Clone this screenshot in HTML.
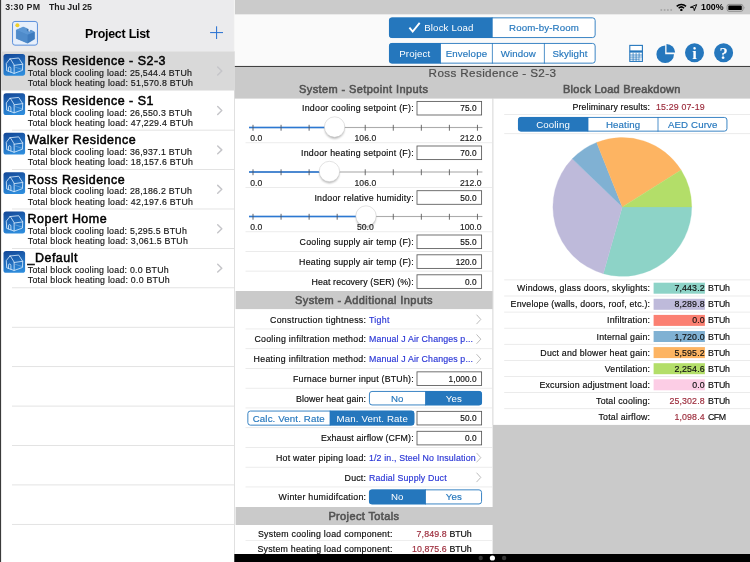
<!DOCTYPE html>
<html lang="en"><head><meta charset="utf-8"><title>Project List</title>
<style>
html,body{margin:0;padding:0;background:#fff;}
#app{position:relative;width:750px;height:562px;overflow:hidden;font-family:"Liberation Sans", sans-serif;color:#000;}
#app div,#app span.t,#app svg{position:absolute;}
svg.ov{left:0;top:0;}
.t{white-space:pre;}
</style></head>
<body>
<div id="app">
<svg class="ov" width="750" height="562" viewBox="0 0 750 562"><rect x="0.00" y="0.00" width="234.40" height="562.00" fill="#ffffff"/><rect x="0.00" y="0.00" width="234.40" height="51.20" fill="#ebebed"/><rect x="234.40" y="0.00" width="515.60" height="14.60" fill="#cbcbcb"/><rect x="234.40" y="14.60" width="515.60" height="51.40" fill="#fafafa"/><rect x="234.40" y="66.00" width="515.60" height="496.00" fill="#cacaca"/><rect x="234.40" y="65.95" width="515.60" height="0.85" fill="#202020"/><rect x="234.40" y="98.60" width="258.20" height="456.00" fill="#ffffff"/><rect x="493.20" y="98.60" width="256.80" height="326.30" fill="#ffffff"/><rect x="492.50" y="98.60" width="0.80" height="326.30" fill="#e0e0e0"/><rect x="234.40" y="554.00" width="515.60" height="8.00" fill="#000000"/><rect x="234.10" y="51.20" width="0.70" height="511.00" fill="#d8d8d8"/><rect x="233.90" y="0.00" width="1.00" height="51.20" fill="#f6f6f6"/><rect x="0.00" y="0.00" width="1.10" height="562.00" fill="#3a3a3a"/></svg>
<span class="t" style="left:5.20px;top:3.00px;font-size:8.8px;line-height:8.8px;letter-spacing:0.258px;font-weight:700;color:#1e1e1e;">3:30 PM</span>
<span class="t" style="left:49.00px;top:3.00px;font-size:8.8px;line-height:8.8px;letter-spacing:-0.057px;font-weight:700;color:#1e1e1e;">Thu Jul 25</span>
<span class="t" style="left:701.00px;top:3.00px;font-size:8.8px;line-height:8.8px;letter-spacing:0.033px;font-weight:700;">100%</span>
<svg class="ov" width="750" height="562" viewBox="0 0 750 562"><circle cx="661.30" cy="10.1" r="1.0" fill="#a6a6a6"/><circle cx="664.60" cy="10.1" r="1.0" fill="#a6a6a6"/><circle cx="667.90" cy="10.1" r="1.0" fill="#a6a6a6"/><circle cx="671.20" cy="10.1" r="1.0" fill="#a6a6a6"/><g transform="translate(676.2 3.4) scale(0.5)"><path d="M1.0 5.9 A13.2 13.2 0 0 1 19.6 5.9" fill="none" stroke="#000" stroke-width="3.0"/><path d="M4.9 9.6 A7.8 7.8 0 0 1 15.7 9.6" fill="none" stroke="#000" stroke-width="3.0"/><circle cx="10.3" cy="13" r="2.4" fill="#000"/></g><path d="M696.7 4.6 L694.3 10.6 L693.7 7.7 L690.3 7.3 Z" fill="none" stroke="#000" stroke-width="0.95" stroke-linejoin="round"/><rect x="727.1" y="4.4" width="15.9" height="6.9" rx="1.9" fill="none" stroke="#808080" stroke-width="0.8"/><rect x="728.3" y="5.6" width="13.5" height="4.5" rx="0.9" fill="#000"/><path d="M743.9 6.6 Q745.2 7.85 743.9 9.1 Z" fill="#808080"/><g transform="translate(11.6 20.6)"><rect x="0.95" y="0.85" width="24.9" height="23.7" rx="2.4" fill="#e7effb" stroke="#5a8fdb" stroke-width="1.0"/><circle cx="5.8" cy="4.7" r="2.0" fill="#f0cf2c"/><path d="M4.67 9.3 L11.7 6.3 L15.3 7.8 L15.3 10.3 L18.3 11.5 L18.3 9.9 L19.4 9.5 L23.0 11.4 L23.0 18.5 L16.0 22.75 L4.67 17.8 Z" fill="#4f8bca" stroke="#4f8bca" stroke-width="0.3"/><path d="M4.67 9.3 L11.7 6.3 L15.3 7.8 L15.3 10.3 L18.3 11.5 L18.3 9.9 L19.4 9.5 L23.0 11.4 L16.0 14.2 Z" fill="#5c97d4"/><path d="M4.67 9.3 L16.0 14.2 L16.0 22.75 L4.67 17.8 Z" fill="#4f8bca"/><path d="M16.0 14.2 L23.0 11.4 L23.0 18.5 L16.0 22.75 Z" fill="#3e7bbe"/><path d="M15.3 7.8 L15.3 10.3 L16.9 10.95 L16.9 8.5 Z" fill="#3a74b4"/></g></svg>
<span class="t" style="left:85.00px;top:28.00px;font-size:12.45px;line-height:12.45px;letter-spacing:-0.249px;font-weight:700;">Project List</span>
<svg class="ov" width="750" height="562" viewBox="0 0 750 562"><rect x="210.10" y="32.05" width="12.90" height="1.05" fill="#2e74d2"/><rect x="216.05" y="26.30" width="1.05" height="12.70" fill="#2e74d2"/><defs><linearGradient id="hg" x1="0.3" y1="0" x2="0.55" y2="1"><stop offset="0" stop-color="#154c9c"/><stop offset="1" stop-color="#2d8cdc"/></linearGradient></defs><rect x="1.25" y="51.30" width="233.00" height="39.22" fill="#d9d9d9"/><g transform="translate(3.5 53.90)"><rect x="0" y="0" width="21.6" height="21.8" rx="2.6" fill="url(#hg)"/><g fill="none" stroke="#d9ebfd" stroke-width="0.82" stroke-linejoin="round" stroke-linecap="round"><path d="M6.4 5.0 L2.8 9.6 L3.2 16.8 L10.65 19.5 L10.65 11.5 Z"/><path d="M6.4 5.0 L15.2 4.1 L19.2 10.3 L10.65 11.5"/><path d="M19.2 10.3 L18.9 16.5 L10.65 19.5"/><path d="M5.0 17.3 L5.0 14.2 Q5.0 12.9 6.2 13.0 Q7.4 13.2 7.4 14.6 L7.4 18.2"/><path d="M12 13.4 L18.9 15.6" stroke-width="0.45" opacity="0.7"/></g></g><path d="M217.7 67.10 L221.8 71.05 L217.7 75.00" fill="none" stroke="#c5c5c9" stroke-width="1.45" stroke-linecap="round" stroke-linejoin="round"/></svg>
<span class="t" style="left:27.60px;top:55.00px;font-size:12.45px;line-height:12.45px;letter-spacing:0.500px;-webkit-text-stroke:0.5px #000;">Ross Residence - S2-3</span>
<span class="t" style="left:27.80px;top:69.00px;font-size:8.8px;line-height:8.8px;letter-spacing:0.240px;color:#161616;-webkit-text-stroke:0.16px #161616;">Total block cooling load: 25,544.4 BTUh</span>
<span class="t" style="left:27.80px;top:79.00px;font-size:8.8px;line-height:8.8px;letter-spacing:0.240px;color:#161616;-webkit-text-stroke:0.16px #161616;">Total block heating load: 51,570.8 BTUh</span>
<svg class="ov" width="750" height="562" viewBox="0 0 750 562"><g transform="translate(3.5 93.32)"><rect x="0" y="0" width="21.6" height="21.8" rx="2.6" fill="url(#hg)"/><g fill="none" stroke="#d9ebfd" stroke-width="0.82" stroke-linejoin="round" stroke-linecap="round"><path d="M6.4 5.0 L2.8 9.6 L3.2 16.8 L10.65 19.5 L10.65 11.5 Z"/><path d="M6.4 5.0 L15.2 4.1 L19.2 10.3 L10.65 11.5"/><path d="M19.2 10.3 L18.9 16.5 L10.65 19.5"/><path d="M5.0 17.3 L5.0 14.2 Q5.0 12.9 6.2 13.0 Q7.4 13.2 7.4 14.6 L7.4 18.2"/><path d="M12 13.4 L18.9 15.6" stroke-width="0.45" opacity="0.7"/></g></g><path d="M217.7 106.52 L221.8 110.47 L217.7 114.42" fill="none" stroke="#c5c5c9" stroke-width="1.45" stroke-linecap="round" stroke-linejoin="round"/></svg>
<span class="t" style="left:27.60px;top:95.00px;font-size:12.45px;line-height:12.45px;letter-spacing:0.500px;-webkit-text-stroke:0.5px #000;">Ross Residence - S1</span>
<span class="t" style="left:27.80px;top:109.00px;font-size:8.8px;line-height:8.8px;letter-spacing:0.240px;color:#161616;-webkit-text-stroke:0.16px #161616;">Total block cooling load: 26,550.3 BTUh</span>
<span class="t" style="left:27.80px;top:119.00px;font-size:8.8px;line-height:8.8px;letter-spacing:0.240px;color:#161616;-webkit-text-stroke:0.16px #161616;">Total block heating load: 47,229.4 BTUh</span>
<svg class="ov" width="750" height="562" viewBox="0 0 750 562"><g transform="translate(3.5 132.74)"><rect x="0" y="0" width="21.6" height="21.8" rx="2.6" fill="url(#hg)"/><g fill="none" stroke="#d9ebfd" stroke-width="0.82" stroke-linejoin="round" stroke-linecap="round"><path d="M6.4 5.0 L2.8 9.6 L3.2 16.8 L10.65 19.5 L10.65 11.5 Z"/><path d="M6.4 5.0 L15.2 4.1 L19.2 10.3 L10.65 11.5"/><path d="M19.2 10.3 L18.9 16.5 L10.65 19.5"/><path d="M5.0 17.3 L5.0 14.2 Q5.0 12.9 6.2 13.0 Q7.4 13.2 7.4 14.6 L7.4 18.2"/><path d="M12 13.4 L18.9 15.6" stroke-width="0.45" opacity="0.7"/></g></g><path d="M217.7 145.94 L221.8 149.89 L217.7 153.84" fill="none" stroke="#c5c5c9" stroke-width="1.45" stroke-linecap="round" stroke-linejoin="round"/></svg>
<span class="t" style="left:27.60px;top:134.00px;font-size:12.45px;line-height:12.45px;letter-spacing:0.500px;-webkit-text-stroke:0.5px #000;">Walker Residence</span>
<span class="t" style="left:27.80px;top:148.00px;font-size:8.8px;line-height:8.8px;letter-spacing:0.240px;color:#161616;-webkit-text-stroke:0.16px #161616;">Total block cooling load: 36,937.1 BTUh</span>
<span class="t" style="left:27.80px;top:158.00px;font-size:8.8px;line-height:8.8px;letter-spacing:0.240px;color:#161616;-webkit-text-stroke:0.16px #161616;">Total block heating load: 18,157.6 BTUh</span>
<svg class="ov" width="750" height="562" viewBox="0 0 750 562"><g transform="translate(3.5 172.16)"><rect x="0" y="0" width="21.6" height="21.8" rx="2.6" fill="url(#hg)"/><g fill="none" stroke="#d9ebfd" stroke-width="0.82" stroke-linejoin="round" stroke-linecap="round"><path d="M6.4 5.0 L2.8 9.6 L3.2 16.8 L10.65 19.5 L10.65 11.5 Z"/><path d="M6.4 5.0 L15.2 4.1 L19.2 10.3 L10.65 11.5"/><path d="M19.2 10.3 L18.9 16.5 L10.65 19.5"/><path d="M5.0 17.3 L5.0 14.2 Q5.0 12.9 6.2 13.0 Q7.4 13.2 7.4 14.6 L7.4 18.2"/><path d="M12 13.4 L18.9 15.6" stroke-width="0.45" opacity="0.7"/></g></g><path d="M217.7 185.36 L221.8 189.31 L217.7 193.26" fill="none" stroke="#c5c5c9" stroke-width="1.45" stroke-linecap="round" stroke-linejoin="round"/></svg>
<span class="t" style="left:27.60px;top:174.00px;font-size:12.45px;line-height:12.45px;letter-spacing:0.500px;-webkit-text-stroke:0.5px #000;">Ross Residence</span>
<span class="t" style="left:27.80px;top:187.00px;font-size:8.8px;line-height:8.8px;letter-spacing:0.240px;color:#161616;-webkit-text-stroke:0.16px #161616;">Total block cooling load: 28,186.2 BTUh</span>
<span class="t" style="left:27.80px;top:198.00px;font-size:8.8px;line-height:8.8px;letter-spacing:0.240px;color:#161616;-webkit-text-stroke:0.16px #161616;">Total block heating load: 42,197.6 BTUh</span>
<svg class="ov" width="750" height="562" viewBox="0 0 750 562"><g transform="translate(3.5 211.58)"><rect x="0" y="0" width="21.6" height="21.8" rx="2.6" fill="url(#hg)"/><g fill="none" stroke="#d9ebfd" stroke-width="0.82" stroke-linejoin="round" stroke-linecap="round"><path d="M6.4 5.0 L2.8 9.6 L3.2 16.8 L10.65 19.5 L10.65 11.5 Z"/><path d="M6.4 5.0 L15.2 4.1 L19.2 10.3 L10.65 11.5"/><path d="M19.2 10.3 L18.9 16.5 L10.65 19.5"/><path d="M5.0 17.3 L5.0 14.2 Q5.0 12.9 6.2 13.0 Q7.4 13.2 7.4 14.6 L7.4 18.2"/><path d="M12 13.4 L18.9 15.6" stroke-width="0.45" opacity="0.7"/></g></g><path d="M217.7 224.78 L221.8 228.73 L217.7 232.68" fill="none" stroke="#c5c5c9" stroke-width="1.45" stroke-linecap="round" stroke-linejoin="round"/></svg>
<span class="t" style="left:27.60px;top:213.00px;font-size:12.45px;line-height:12.45px;letter-spacing:0.500px;-webkit-text-stroke:0.5px #000;">Ropert Home</span>
<span class="t" style="left:27.80px;top:227.00px;font-size:8.8px;line-height:8.8px;letter-spacing:0.240px;color:#161616;-webkit-text-stroke:0.16px #161616;">Total block cooling load: 5,295.5 BTUh</span>
<span class="t" style="left:27.80px;top:237.00px;font-size:8.8px;line-height:8.8px;letter-spacing:0.240px;color:#161616;-webkit-text-stroke:0.16px #161616;">Total block heating load: 3,061.5 BTUh</span>
<svg class="ov" width="750" height="562" viewBox="0 0 750 562"><g transform="translate(3.5 251.00)"><rect x="0" y="0" width="21.6" height="21.8" rx="2.6" fill="url(#hg)"/><g fill="none" stroke="#d9ebfd" stroke-width="0.82" stroke-linejoin="round" stroke-linecap="round"><path d="M6.4 5.0 L2.8 9.6 L3.2 16.8 L10.65 19.5 L10.65 11.5 Z"/><path d="M6.4 5.0 L15.2 4.1 L19.2 10.3 L10.65 11.5"/><path d="M19.2 10.3 L18.9 16.5 L10.65 19.5"/><path d="M5.0 17.3 L5.0 14.2 Q5.0 12.9 6.2 13.0 Q7.4 13.2 7.4 14.6 L7.4 18.2"/><path d="M12 13.4 L18.9 15.6" stroke-width="0.45" opacity="0.7"/></g></g><path d="M217.7 264.20 L221.8 268.15 L217.7 272.10" fill="none" stroke="#c5c5c9" stroke-width="1.45" stroke-linecap="round" stroke-linejoin="round"/></svg>
<span class="t" style="left:27.60px;top:252.00px;font-size:12.45px;line-height:12.45px;letter-spacing:0.500px;-webkit-text-stroke:0.5px #000;">_Default</span>
<span class="t" style="left:27.80px;top:266.00px;font-size:8.8px;line-height:8.8px;letter-spacing:0.240px;color:#161616;-webkit-text-stroke:0.16px #161616;">Total block cooling load: 0.0 BTUh</span>
<span class="t" style="left:27.80px;top:276.00px;font-size:8.8px;line-height:8.8px;letter-spacing:0.240px;color:#161616;-webkit-text-stroke:0.16px #161616;">Total block heating load: 0.0 BTUh</span>
<svg class="ov" width="750" height="562" viewBox="0 0 750 562"><rect x="12.00" y="129.76" width="222.10" height="0.75" fill="#dadada"/><rect x="12.00" y="169.19" width="222.10" height="0.75" fill="#dadada"/><rect x="12.00" y="208.61" width="222.10" height="0.75" fill="#dadada"/><rect x="12.00" y="248.03" width="222.10" height="0.75" fill="#dadada"/><rect x="12.00" y="287.44" width="222.10" height="0.75" fill="#dadada"/><rect x="12.00" y="326.87" width="222.10" height="0.75" fill="#dadada"/><rect x="12.00" y="366.29" width="222.10" height="0.75" fill="#dadada"/><rect x="12.00" y="405.71" width="222.10" height="0.75" fill="#dadada"/><rect x="12.00" y="445.13" width="222.10" height="0.75" fill="#dadada"/><rect x="12.00" y="484.55" width="222.10" height="0.75" fill="#dadada"/><rect x="12.00" y="523.97" width="222.10" height="0.75" fill="#dadada"/><clipPath id="c1"><rect x="389.00" y="17.40" width="206.60" height="20.60" rx="3.0"/></clipPath><rect x="389.00" y="17.40" width="206.60" height="20.60" rx="3.0" fill="#fff"/><rect x="389.00" y="17.40" width="103.20" height="20.60" fill="#2577bd" clip-path="url(#c1)"/><rect x="491.80" y="17.40" width="0.8" height="20.60" fill="#2577bd"/><rect x="389.45" y="17.85" width="205.70" height="19.70" rx="2.55" fill="none" stroke="#2577bd" stroke-width="0.9"/><path d="M409.40 27.67 L412.70 31.57 L419.70 22.87" fill="none" stroke="#fff" stroke-width="1.9"/></svg>
<span class="t" style="left:424.25px;top:23.00px;font-size:9.7px;line-height:9.7px;letter-spacing:0.130px;color:#fff;">Block Load</span>
<span class="t" style="left:509.00px;top:23.00px;font-size:9.7px;line-height:9.7px;letter-spacing:0.130px;color:#2577bd;-webkit-text-stroke:0.16px #2577bd;">Room-by-Room</span>
<svg class="ov" width="750" height="562" viewBox="0 0 750 562"><clipPath id="c2"><rect x="389.00" y="43.00" width="206.60" height="20.60" rx="3.0"/></clipPath><rect x="389.00" y="43.00" width="206.60" height="20.60" rx="3.0" fill="#fff"/><rect x="389.00" y="43.00" width="51.50" height="20.60" fill="#2577bd" clip-path="url(#c2)"/><rect x="440.10" y="43.00" width="0.8" height="20.60" fill="#2577bd"/><rect x="491.90" y="43.00" width="0.8" height="20.60" fill="#2577bd"/><rect x="543.90" y="43.00" width="0.8" height="20.60" fill="#2577bd"/><rect x="389.45" y="43.45" width="205.70" height="19.70" rx="2.55" fill="none" stroke="#2577bd" stroke-width="0.9"/></svg>
<span class="t" style="left:399.28px;top:49.00px;font-size:9.7px;line-height:9.7px;letter-spacing:0.130px;color:#fff;">Project</span>
<span class="t" style="left:445.74px;top:49.00px;font-size:9.7px;line-height:9.7px;letter-spacing:0.130px;color:#2577bd;-webkit-text-stroke:0.16px #2577bd;">Envelope</span>
<span class="t" style="left:500.74px;top:49.00px;font-size:9.7px;line-height:9.7px;letter-spacing:0.130px;color:#2577bd;-webkit-text-stroke:0.16px #2577bd;">Window</span>
<span class="t" style="left:552.53px;top:49.00px;font-size:9.7px;line-height:9.7px;letter-spacing:0.130px;color:#2577bd;-webkit-text-stroke:0.16px #2577bd;">Skylight</span>
<svg class="ov" width="750" height="562" viewBox="0 0 750 562"><g transform="translate(629.2 44.8)"><rect x="0.6" y="0.6" width="12.6" height="16" fill="#fff" stroke="#2577bd" stroke-width="1.1"/><rect x="0.6" y="5.6" width="12.6" height="2.2" fill="#2577bd"/><g stroke="#2577bd" stroke-width="0.75"><path d="M3.9 8 V16.6 M6.9 8 V16.6 M9.9 8 V16.6"/><path d="M0.6 10.2 H13.2 M0.6 12.3 H13.2 M0.6 14.4 H13.2"/></g><rect x="10.35" y="12.75" width="2.25" height="3.4" fill="#d9e6f3"/></g><g transform="translate(655 42.4)"><path d="M10.2 3.1 A8.8 8.8 0 1 0 19 11.9 L10.2 11.9 Z" fill="#2577bd"/><path d="M11.5 1.5 A8.6 8.6 0 0 1 20.1 10.1 L11.5 10.1 Z" fill="#2577bd"/></g><circle cx="694.5" cy="52.7" r="9.5" fill="#2577bd"/><circle cx="723.6" cy="52.7" r="9.5" fill="#2577bd"/></svg>
<span class="t" style="left:692.30px;top:46.00px;font-size:16.5px;line-height:16.5px;font-weight:700;color:#fff;font-family:'Liberation Serif', serif;">i</span>
<span class="t" style="left:719.58px;top:46.00px;font-size:16.5px;line-height:16.5px;font-weight:700;color:#fff;font-family:'Liberation Serif', serif;">?</span>
<span class="t" style="left:428.60px;top:67.00px;font-size:11.7px;line-height:11.7px;letter-spacing:0.361px;color:#4e4e4e;-webkit-text-stroke:0.2px #4e4e4e;">Ross Residence - S2-3</span>
<span class="t" style="left:299.00px;top:84.00px;font-size:11px;line-height:11px;letter-spacing:0.398px;color:#525252;-webkit-text-stroke:0.55px #525252;">System - Setpoint Inputs</span>
<span class="t" style="left:563.00px;top:84.00px;font-size:11px;line-height:11px;letter-spacing:0.257px;color:#525252;-webkit-text-stroke:0.55px #525252;">Block Load Breakdown</span>
<svg class="ov" width="750" height="562" viewBox="0 0 750 562"><defs><filter id="sh" x="-30%" y="-30%" width="160%" height="170%"><feGaussianBlur stdDeviation="1.25"/></filter></defs></svg>
<span class="t" style="left:302.00px;top:104.00px;font-size:8.8px;line-height:8.8px;letter-spacing:0.258px;color:#0c0c0c;-webkit-text-stroke:0.16px #0c0c0c;">Indoor cooling setpoint (F):</span>
<svg class="ov" width="750" height="562" viewBox="0 0 750 562"><rect x="417.0" y="101.40" width="64.6" height="13.6" fill="#fff" stroke="#585858" stroke-width="0.85"/></svg>
<span class="t" style="left:460.29px;top:104.00px;font-size:8.3px;line-height:8.3px;letter-spacing:0.050px;color:#111;-webkit-text-stroke:0.16px #111;">75.0</span>
<svg class="ov" width="750" height="562" viewBox="0 0 750 562"><rect x="249.00" y="126.95" width="233.40" height="1.10" fill="#acacac"/><rect x="249.00" y="126.70" width="85.60" height="1.60" fill="#2c78d2"/><rect x="252.55" y="124.80" width="0.90" height="5.90" fill="#4f5560"/><rect x="280.60" y="124.80" width="0.90" height="5.90" fill="#4f5560"/><rect x="308.65" y="124.80" width="0.90" height="5.90" fill="#4f5560"/><rect x="336.70" y="124.80" width="0.90" height="5.90" fill="#5e5e5e"/><rect x="364.75" y="124.80" width="0.90" height="5.90" fill="#5e5e5e"/><rect x="392.80" y="124.80" width="0.90" height="5.90" fill="#5e5e5e"/><rect x="420.85" y="124.80" width="0.90" height="5.90" fill="#5e5e5e"/><rect x="448.90" y="124.80" width="0.90" height="5.90" fill="#5e5e5e"/><rect x="476.95" y="124.80" width="0.90" height="5.90" fill="#5e5e5e"/><circle cx="334.60" cy="129.00" r="9.7" fill="#000" opacity="0.3" filter="url(#sh)"/><circle cx="334.60" cy="127.00" r="10.2" fill="#fff" stroke="#c6c6c6" stroke-width="0.5"/></svg>
<span class="t" style="left:250.20px;top:134.00px;font-size:8.6px;line-height:8.6px;letter-spacing:0.050px;color:#222;-webkit-text-stroke:0.16px #222;">0.0</span>
<span class="t" style="left:354.54px;top:134.00px;font-size:8.6px;line-height:8.6px;letter-spacing:0.050px;color:#222;-webkit-text-stroke:0.16px #222;">106.0</span>
<span class="t" style="left:459.88px;top:134.00px;font-size:8.6px;line-height:8.6px;letter-spacing:0.050px;color:#222;-webkit-text-stroke:0.16px #222;">212.0</span>
<svg class="ov" width="750" height="562" viewBox="0 0 750 562"><rect x="245.50" y="142.43" width="247.00" height="0.75" fill="#e5e5e5"/></svg>
<span class="t" style="left:301.00px;top:149.00px;font-size:8.8px;line-height:8.8px;letter-spacing:0.258px;color:#0c0c0c;-webkit-text-stroke:0.16px #0c0c0c;">Indoor heating setpoint (F):</span>
<svg class="ov" width="750" height="562" viewBox="0 0 750 562"><rect x="417.0" y="146.00" width="64.6" height="13.6" fill="#fff" stroke="#585858" stroke-width="0.85"/></svg>
<span class="t" style="left:460.29px;top:149.00px;font-size:8.3px;line-height:8.3px;letter-spacing:0.050px;color:#111;-webkit-text-stroke:0.16px #111;">70.0</span>
<svg class="ov" width="750" height="562" viewBox="0 0 750 562"><rect x="249.00" y="171.45" width="233.40" height="1.10" fill="#acacac"/><rect x="249.00" y="171.20" width="80.40" height="1.60" fill="#2c78d2"/><rect x="252.55" y="169.30" width="0.90" height="5.90" fill="#4f5560"/><rect x="280.60" y="169.30" width="0.90" height="5.90" fill="#4f5560"/><rect x="308.65" y="169.30" width="0.90" height="5.90" fill="#4f5560"/><rect x="336.70" y="169.30" width="0.90" height="5.90" fill="#5e5e5e"/><rect x="364.75" y="169.30" width="0.90" height="5.90" fill="#5e5e5e"/><rect x="392.80" y="169.30" width="0.90" height="5.90" fill="#5e5e5e"/><rect x="420.85" y="169.30" width="0.90" height="5.90" fill="#5e5e5e"/><rect x="448.90" y="169.30" width="0.90" height="5.90" fill="#5e5e5e"/><rect x="476.95" y="169.30" width="0.90" height="5.90" fill="#5e5e5e"/><circle cx="329.40" cy="173.50" r="9.7" fill="#000" opacity="0.3" filter="url(#sh)"/><circle cx="329.40" cy="171.50" r="10.2" fill="#fff" stroke="#c6c6c6" stroke-width="0.5"/></svg>
<span class="t" style="left:250.20px;top:179.00px;font-size:8.6px;line-height:8.6px;letter-spacing:0.050px;color:#222;-webkit-text-stroke:0.16px #222;">0.0</span>
<span class="t" style="left:354.54px;top:179.00px;font-size:8.6px;line-height:8.6px;letter-spacing:0.050px;color:#222;-webkit-text-stroke:0.16px #222;">106.0</span>
<span class="t" style="left:459.88px;top:179.00px;font-size:8.6px;line-height:8.6px;letter-spacing:0.050px;color:#222;-webkit-text-stroke:0.16px #222;">212.0</span>
<svg class="ov" width="750" height="562" viewBox="0 0 750 562"><rect x="245.50" y="187.03" width="247.00" height="0.75" fill="#e5e5e5"/></svg>
<span class="t" style="left:314.40px;top:194.00px;font-size:8.8px;line-height:8.8px;letter-spacing:0.242px;color:#0c0c0c;-webkit-text-stroke:0.16px #0c0c0c;">Indoor relative humidity:</span>
<svg class="ov" width="750" height="562" viewBox="0 0 750 562"><rect x="417.0" y="190.70" width="64.6" height="13.6" fill="#fff" stroke="#585858" stroke-width="0.85"/></svg>
<span class="t" style="left:460.29px;top:194.00px;font-size:8.3px;line-height:8.3px;letter-spacing:0.050px;color:#111;-webkit-text-stroke:0.16px #111;">50.0</span>
<svg class="ov" width="750" height="562" viewBox="0 0 750 562"><rect x="249.00" y="215.95" width="233.40" height="1.10" fill="#acacac"/><rect x="249.00" y="215.70" width="117.00" height="1.60" fill="#2c78d2"/><rect x="252.55" y="213.80" width="0.90" height="5.90" fill="#4f5560"/><rect x="280.60" y="213.80" width="0.90" height="5.90" fill="#4f5560"/><rect x="308.65" y="213.80" width="0.90" height="5.90" fill="#4f5560"/><rect x="336.70" y="213.80" width="0.90" height="5.90" fill="#4f5560"/><rect x="364.75" y="213.80" width="0.90" height="5.90" fill="#4f5560"/><rect x="392.80" y="213.80" width="0.90" height="5.90" fill="#5e5e5e"/><rect x="420.85" y="213.80" width="0.90" height="5.90" fill="#5e5e5e"/><rect x="448.90" y="213.80" width="0.90" height="5.90" fill="#5e5e5e"/><rect x="476.95" y="213.80" width="0.90" height="5.90" fill="#5e5e5e"/><circle cx="366.00" cy="218.00" r="9.7" fill="#000" opacity="0.3" filter="url(#sh)"/><circle cx="366.00" cy="216.00" r="10.2" fill="#fff" stroke="#c6c6c6" stroke-width="0.5"/></svg>
<span class="t" style="left:250.20px;top:223.00px;font-size:8.6px;line-height:8.6px;letter-spacing:0.050px;color:#222;-webkit-text-stroke:0.16px #222;">0.0</span>
<span class="t" style="left:356.96px;top:223.00px;font-size:8.6px;line-height:8.6px;letter-spacing:0.050px;color:#222;-webkit-text-stroke:0.16px #222;">50.0</span>
<span class="t" style="left:459.88px;top:223.00px;font-size:8.6px;line-height:8.6px;letter-spacing:0.050px;color:#222;-webkit-text-stroke:0.16px #222;">100.0</span>
<svg class="ov" width="750" height="562" viewBox="0 0 750 562"><rect x="245.50" y="231.43" width="247.00" height="0.75" fill="#e5e5e5"/></svg>
<span class="t" style="left:299.61px;top:238.00px;font-size:8.8px;line-height:8.8px;letter-spacing:0.220px;color:#0c0c0c;-webkit-text-stroke:0.16px #0c0c0c;">Cooling supply air temp (F):</span>
<svg class="ov" width="750" height="562" viewBox="0 0 750 562"><rect x="417.0" y="235.00" width="64.6" height="13.6" fill="#fff" stroke="#585858" stroke-width="0.85"/></svg>
<span class="t" style="left:460.29px;top:238.00px;font-size:8.3px;line-height:8.3px;letter-spacing:0.050px;color:#111;-webkit-text-stroke:0.16px #111;">55.0</span>
<svg class="ov" width="750" height="562" viewBox="0 0 750 562"><rect x="245.50" y="251.03" width="247.00" height="0.75" fill="#e5e5e5"/></svg>
<span class="t" style="left:299.11px;top:258.00px;font-size:8.8px;line-height:8.8px;letter-spacing:0.220px;color:#0c0c0c;-webkit-text-stroke:0.16px #0c0c0c;">Heating supply air temp (F):</span>
<svg class="ov" width="750" height="562" viewBox="0 0 750 562"><rect x="417.0" y="254.80" width="64.6" height="13.6" fill="#fff" stroke="#585858" stroke-width="0.85"/></svg>
<span class="t" style="left:455.63px;top:258.00px;font-size:8.3px;line-height:8.3px;letter-spacing:0.050px;color:#111;-webkit-text-stroke:0.16px #111;">120.0</span>
<svg class="ov" width="750" height="562" viewBox="0 0 750 562"><rect x="245.50" y="270.73" width="247.00" height="0.75" fill="#e5e5e5"/></svg>
<span class="t" style="left:311.60px;top:278.00px;font-size:8.8px;line-height:8.8px;letter-spacing:0.099px;color:#0c0c0c;-webkit-text-stroke:0.16px #0c0c0c;">Heat recovery (SER) (%):</span>
<svg class="ov" width="750" height="562" viewBox="0 0 750 562"><rect x="417.0" y="274.80" width="64.6" height="13.6" fill="#fff" stroke="#585858" stroke-width="0.85"/></svg>
<span class="t" style="left:464.95px;top:278.00px;font-size:8.3px;line-height:8.3px;letter-spacing:0.050px;color:#111;-webkit-text-stroke:0.16px #111;">0.0</span>
<svg class="ov" width="750" height="562" viewBox="0 0 750 562"><rect x="235.60" y="291.00" width="257.00" height="18.10" fill="#cacaca"/></svg>
<span class="t" style="left:295.00px;top:295.00px;font-size:11px;line-height:11px;letter-spacing:0.408px;color:#525252;-webkit-text-stroke:0.55px #525252;">System - Additional Inputs</span>
<span class="t" style="left:270.00px;top:316.00px;font-size:8.8px;line-height:8.8px;letter-spacing:0.296px;color:#0c0c0c;-webkit-text-stroke:0.16px #0c0c0c;">Construction tightness:</span>
<span class="t" style="left:369.00px;top:316.00px;font-size:8.8px;line-height:8.8px;letter-spacing:0.291px;color:#2a36d6;-webkit-text-stroke:0.16px #2a36d6;">Tight</span>
<svg class="ov" width="750" height="562" viewBox="0 0 750 562"><path d="M476.8 315.00 L480.8 319.40 L476.8 323.80" fill="none" stroke="#b8b8b8" stroke-width="0.95" stroke-linecap="round" stroke-linejoin="round"/><rect x="245.50" y="328.57" width="247.00" height="0.75" fill="#e5e5e5"/></svg>
<span class="t" style="left:254.40px;top:335.00px;font-size:8.8px;line-height:8.8px;letter-spacing:0.276px;color:#0c0c0c;-webkit-text-stroke:0.16px #0c0c0c;">Cooling infiltration method:</span>
<span class="t" style="left:369.00px;top:335.00px;font-size:8.8px;line-height:8.8px;letter-spacing:0.136px;color:#2a36d6;-webkit-text-stroke:0.16px #2a36d6;">Manual J Air Changes p...</span>
<svg class="ov" width="750" height="562" viewBox="0 0 750 562"><path d="M476.8 334.75 L480.8 339.15 L476.8 343.55" fill="none" stroke="#b8b8b8" stroke-width="0.95" stroke-linecap="round" stroke-linejoin="round"/><rect x="245.50" y="348.32" width="247.00" height="0.75" fill="#e5e5e5"/></svg>
<span class="t" style="left:253.60px;top:355.00px;font-size:8.8px;line-height:8.8px;letter-spacing:0.287px;color:#0c0c0c;-webkit-text-stroke:0.16px #0c0c0c;">Heating infiltration method:</span>
<span class="t" style="left:369.00px;top:355.00px;font-size:8.8px;line-height:8.8px;letter-spacing:0.136px;color:#2a36d6;-webkit-text-stroke:0.16px #2a36d6;">Manual J Air Changes p...</span>
<svg class="ov" width="750" height="562" viewBox="0 0 750 562"><path d="M476.8 354.50 L480.8 358.90 L476.8 363.30" fill="none" stroke="#b8b8b8" stroke-width="0.95" stroke-linecap="round" stroke-linejoin="round"/><rect x="245.50" y="368.07" width="247.00" height="0.75" fill="#e5e5e5"/></svg>
<span class="t" style="left:293.00px;top:375.00px;font-size:8.8px;line-height:8.8px;letter-spacing:0.211px;color:#0c0c0c;-webkit-text-stroke:0.16px #0c0c0c;">Furnace burner input (BTUh):</span>
<svg class="ov" width="750" height="562" viewBox="0 0 750 562"><rect x="417.0" y="371.85" width="64.6" height="13.6" fill="#fff" stroke="#585858" stroke-width="0.85"/></svg>
<span class="t" style="left:448.61px;top:375.00px;font-size:8.3px;line-height:8.3px;letter-spacing:0.050px;color:#111;-webkit-text-stroke:0.16px #111;">1,000.0</span>
<svg class="ov" width="750" height="562" viewBox="0 0 750 562"><rect x="245.50" y="387.82" width="247.00" height="0.75" fill="#e5e5e5"/></svg>
<span class="t" style="left:296.00px;top:395.00px;font-size:8.8px;line-height:8.8px;letter-spacing:0.126px;color:#0c0c0c;-webkit-text-stroke:0.16px #0c0c0c;">Blower heat gain:</span>
<svg class="ov" width="750" height="562" viewBox="0 0 750 562"><clipPath id="c3"><rect x="369.00" y="391.00" width="113.00" height="14.40" rx="3.0"/></clipPath><rect x="369.00" y="391.00" width="113.00" height="14.40" rx="3.0" fill="#fff"/><rect x="425.50" y="391.00" width="56.50" height="14.40" fill="#2577bd" clip-path="url(#c3)"/><rect x="425.10" y="391.00" width="0.8" height="14.40" fill="#2577bd"/><rect x="369.45" y="391.45" width="112.10" height="13.50" rx="2.55" fill="none" stroke="#2577bd" stroke-width="0.9"/></svg>
<span class="t" style="left:390.99px;top:394.00px;font-size:9.7px;line-height:9.7px;letter-spacing:0.130px;color:#2577bd;-webkit-text-stroke:0.16px #2577bd;">No</span>
<span class="t" style="left:445.71px;top:394.00px;font-size:9.7px;line-height:9.7px;letter-spacing:0.130px;color:#fff;">Yes</span>
<svg class="ov" width="750" height="562" viewBox="0 0 750 562"><rect x="245.50" y="407.57" width="247.00" height="0.75" fill="#e5e5e5"/><clipPath id="c4"><rect x="247.40" y="410.60" width="167.00" height="15.00" rx="3.0"/></clipPath><rect x="247.40" y="410.60" width="167.00" height="15.00" rx="3.0" fill="#fff"/><rect x="330.00" y="410.60" width="84.40" height="15.00" fill="#2577bd" clip-path="url(#c4)"/><rect x="329.60" y="410.60" width="0.8" height="15.00" fill="#2577bd"/><rect x="247.85" y="411.05" width="166.10" height="14.10" rx="2.55" fill="none" stroke="#2577bd" stroke-width="0.9"/></svg>
<span class="t" style="left:252.72px;top:414.00px;font-size:9.7px;line-height:9.7px;letter-spacing:0.130px;color:#2577bd;-webkit-text-stroke:0.16px #2577bd;">Calc. Vent. Rate</span>
<span class="t" style="left:336.56px;top:414.00px;font-size:9.7px;line-height:9.7px;letter-spacing:0.130px;color:#fff;">Man. Vent. Rate</span>
<svg class="ov" width="750" height="562" viewBox="0 0 750 562"><rect x="417.0" y="411.35" width="64.6" height="13.6" fill="#fff" stroke="#585858" stroke-width="0.85"/></svg>
<span class="t" style="left:460.29px;top:414.00px;font-size:8.3px;line-height:8.3px;letter-spacing:0.050px;color:#111;-webkit-text-stroke:0.16px #111;">50.0</span>
<svg class="ov" width="750" height="562" viewBox="0 0 750 562"><rect x="245.50" y="427.32" width="247.00" height="0.75" fill="#e5e5e5"/></svg>
<span class="t" style="left:321.00px;top:434.00px;font-size:8.8px;line-height:8.8px;letter-spacing:0.150px;color:#0c0c0c;-webkit-text-stroke:0.16px #0c0c0c;">Exhaust airflow (CFM):</span>
<svg class="ov" width="750" height="562" viewBox="0 0 750 562"><rect x="417.0" y="431.30" width="64.6" height="13.6" fill="#fff" stroke="#585858" stroke-width="0.85"/></svg>
<span class="t" style="left:464.95px;top:434.00px;font-size:8.3px;line-height:8.3px;letter-spacing:0.050px;color:#111;-webkit-text-stroke:0.16px #111;">0.0</span>
<svg class="ov" width="750" height="562" viewBox="0 0 750 562"><rect x="245.50" y="447.07" width="247.00" height="0.75" fill="#e5e5e5"/></svg>
<span class="t" style="left:276.00px;top:454.00px;font-size:8.8px;line-height:8.8px;letter-spacing:0.234px;color:#0c0c0c;-webkit-text-stroke:0.16px #0c0c0c;">Hot water piping load:</span>
<span class="t" style="left:369.00px;top:454.00px;font-size:8.8px;line-height:8.8px;letter-spacing:0.144px;color:#2a36d6;-webkit-text-stroke:0.16px #2a36d6;">1/2 in., Steel No Insulation</span>
<svg class="ov" width="750" height="562" viewBox="0 0 750 562"><path d="M476.8 453.25 L480.8 457.65 L476.8 462.05" fill="none" stroke="#b8b8b8" stroke-width="0.95" stroke-linecap="round" stroke-linejoin="round"/><rect x="245.50" y="466.82" width="247.00" height="0.75" fill="#e5e5e5"/></svg>
<span class="t" style="left:344.57px;top:474.00px;font-size:8.8px;line-height:8.8px;letter-spacing:0.220px;color:#0c0c0c;-webkit-text-stroke:0.16px #0c0c0c;">Duct:</span>
<span class="t" style="left:369.00px;top:474.00px;font-size:8.8px;line-height:8.8px;letter-spacing:0.164px;color:#2a36d6;-webkit-text-stroke:0.16px #2a36d6;">Radial Supply Duct</span>
<svg class="ov" width="750" height="562" viewBox="0 0 750 562"><path d="M476.8 473.00 L480.8 477.40 L476.8 481.80" fill="none" stroke="#b8b8b8" stroke-width="0.95" stroke-linecap="round" stroke-linejoin="round"/><rect x="245.50" y="486.57" width="247.00" height="0.75" fill="#e5e5e5"/></svg>
<span class="t" style="left:278.60px;top:493.00px;font-size:8.8px;line-height:8.8px;letter-spacing:0.263px;color:#0c0c0c;-webkit-text-stroke:0.16px #0c0c0c;">Winter humidifcation:</span>
<svg class="ov" width="750" height="562" viewBox="0 0 750 562"><clipPath id="c5"><rect x="369.00" y="489.40" width="113.00" height="15.00" rx="3.0"/></clipPath><rect x="369.00" y="489.40" width="113.00" height="15.00" rx="3.0" fill="#fff"/><rect x="369.00" y="489.40" width="56.50" height="15.00" fill="#2577bd" clip-path="url(#c5)"/><rect x="425.10" y="489.40" width="0.8" height="15.00" fill="#2577bd"/><rect x="369.45" y="489.85" width="112.10" height="14.10" rx="2.55" fill="none" stroke="#2577bd" stroke-width="0.9"/></svg>
<span class="t" style="left:390.99px;top:492.00px;font-size:9.7px;line-height:9.7px;letter-spacing:0.130px;color:#fff;">No</span>
<span class="t" style="left:445.71px;top:492.00px;font-size:9.7px;line-height:9.7px;letter-spacing:0.130px;color:#2577bd;-webkit-text-stroke:0.16px #2577bd;">Yes</span>
<svg class="ov" width="750" height="562" viewBox="0 0 750 562"><rect x="235.60" y="507.00" width="514.40" height="18.00" fill="#cacaca"/></svg>
<span class="t" style="left:328.40px;top:511.00px;font-size:11px;line-height:11px;letter-spacing:0.367px;color:#525252;-webkit-text-stroke:0.55px #525252;">Project Totals</span>
<span class="t" style="left:258.00px;top:530.00px;font-size:8.8px;line-height:8.8px;letter-spacing:0.250px;color:#0c0c0c;-webkit-text-stroke:0.16px #0c0c0c;">System cooling load component:</span>
<span class="t" style="left:416.60px;top:530.00px;font-size:8.8px;line-height:8.8px;letter-spacing:0.107px;color:#9c2b3b;-webkit-text-stroke:0.16px #9c2b3b;">7,849.8</span>
<span class="t" style="left:449.60px;top:530.00px;font-size:8.8px;line-height:8.8px;letter-spacing:-0.167px;color:#0c0c0c;-webkit-text-stroke:0.16px #0c0c0c;">BTUh</span>
<svg class="ov" width="750" height="562" viewBox="0 0 750 562"><rect x="245.50" y="540.23" width="247.00" height="0.75" fill="#e8e8e8"/></svg>
<span class="t" style="left:257.40px;top:545.00px;font-size:8.8px;line-height:8.8px;letter-spacing:0.237px;color:#0c0c0c;-webkit-text-stroke:0.16px #0c0c0c;">System heating load component:</span>
<span class="t" style="left:412.00px;top:545.00px;font-size:8.8px;line-height:8.8px;letter-spacing:0.050px;color:#9c2b3b;-webkit-text-stroke:0.16px #9c2b3b;">10,875.6</span>
<span class="t" style="left:449.60px;top:545.00px;font-size:8.8px;line-height:8.8px;letter-spacing:-0.167px;color:#0c0c0c;-webkit-text-stroke:0.16px #0c0c0c;">BTUh</span>
<svg class="ov" width="750" height="562" viewBox="0 0 750 562"><rect x="234.40" y="554.00" width="515.60" height="8.00" fill="#000"/><circle cx="480.7" cy="558" r="2.2" fill="#333"/><circle cx="492.4" cy="558" r="2.6" fill="#fff"/><circle cx="504.1" cy="558" r="2.2" fill="#333"/></svg>
<span class="t" style="left:572.40px;top:103.00px;font-size:8.8px;line-height:8.8px;letter-spacing:0.148px;color:#0c0c0c;-webkit-text-stroke:0.16px #0c0c0c;">Preliminary results:</span>
<span class="t" style="left:656.00px;top:103.00px;font-size:8.8px;line-height:8.8px;letter-spacing:0.163px;color:#9c2b3b;-webkit-text-stroke:0.16px #9c2b3b;">15:29 07-19</span>
<svg class="ov" width="750" height="562" viewBox="0 0 750 562"><rect x="504.20" y="114.12" width="245.80" height="0.75" fill="#e5e5e5"/><clipPath id="c6"><rect x="518.00" y="117.00" width="209.40" height="14.60" rx="3.0"/></clipPath><rect x="518.00" y="117.00" width="209.40" height="14.60" rx="3.0" fill="#fff"/><rect x="518.00" y="117.00" width="70.00" height="14.60" fill="#2577bd" clip-path="url(#c6)"/><rect x="587.60" y="117.00" width="0.8" height="14.60" fill="#2577bd"/><rect x="657.60" y="117.00" width="0.8" height="14.60" fill="#2577bd"/><rect x="518.45" y="117.45" width="208.50" height="13.70" rx="2.55" fill="none" stroke="#2577bd" stroke-width="0.9"/></svg>
<span class="t" style="left:536.18px;top:120.00px;font-size:9.7px;line-height:9.7px;letter-spacing:0.130px;color:#fff;">Cooling</span>
<span class="t" style="left:605.91px;top:120.00px;font-size:9.7px;line-height:9.7px;letter-spacing:0.130px;color:#2577bd;-webkit-text-stroke:0.16px #2577bd;">Heating</span>
<span class="t" style="left:667.95px;top:120.00px;font-size:9.7px;line-height:9.7px;letter-spacing:0.130px;color:#2577bd;-webkit-text-stroke:0.16px #2577bd;">AED Curve</span>
<svg class="ov" width="750" height="562" viewBox="0 0 750 562"><rect x="504.20" y="133.32" width="245.80" height="0.75" fill="#e5e5e5"/><path d="M622.30 206.90 L691.70 206.90 A69.4 69.4 0 0 1 603.29 273.65 Z" fill="#8dd3c7" stroke="#8dd3c7" stroke-width="0.3"/><path d="M622.30 206.90 L603.29 273.65 A69.4 69.4 0 0 1 572.25 158.83 Z" fill="#bebada" stroke="#bebada" stroke-width="0.3"/><path d="M622.30 206.90 L572.25 158.83 A69.4 69.4 0 0 1 596.66 142.41 Z" fill="#80b1d3" stroke="#80b1d3" stroke-width="0.3"/><path d="M622.30 206.90 L596.66 142.41 A69.4 69.4 0 0 1 681.10 170.04 Z" fill="#fdb462" stroke="#fdb462" stroke-width="0.3"/><path d="M622.30 206.90 L681.10 170.04 A69.4 69.4 0 0 1 691.70 206.90 Z" fill="#b3de69" stroke="#b3de69" stroke-width="0.3"/><rect x="504.20" y="279.52" width="245.80" height="0.75" fill="#e5e5e5"/><rect x="653.60" y="282.70" width="51.30" height="11.00" fill="#8dd3c7"/></svg>
<span class="t" style="left:517.00px;top:284.00px;font-size:8.8px;line-height:8.8px;letter-spacing:0.206px;color:#0c0c0c;-webkit-text-stroke:0.16px #0c0c0c;">Windows, glass doors, skylights:</span>
<span class="t" style="left:674.52px;top:284.00px;font-size:8.8px;line-height:8.8px;letter-spacing:0.120px;color:#111;-webkit-text-stroke:0.16px #111;">7,443.2</span>
<span class="t" style="left:708.00px;top:284.00px;font-size:8.8px;line-height:8.8px;letter-spacing:-0.167px;color:#0c0c0c;-webkit-text-stroke:0.16px #0c0c0c;">BTUh</span>
<svg class="ov" width="750" height="562" viewBox="0 0 750 562"><rect x="504.20" y="295.62" width="245.80" height="0.75" fill="#e5e5e5"/><rect x="653.60" y="298.80" width="51.30" height="11.00" fill="#bebada"/></svg>
<span class="t" style="left:510.60px;top:300.00px;font-size:8.8px;line-height:8.8px;letter-spacing:0.183px;color:#0c0c0c;-webkit-text-stroke:0.16px #0c0c0c;">Envelope (walls, doors, roof, etc.):</span>
<span class="t" style="left:674.52px;top:300.00px;font-size:8.8px;line-height:8.8px;letter-spacing:0.120px;color:#111;-webkit-text-stroke:0.16px #111;">8,289.8</span>
<span class="t" style="left:708.00px;top:300.00px;font-size:8.8px;line-height:8.8px;letter-spacing:-0.167px;color:#0c0c0c;-webkit-text-stroke:0.16px #0c0c0c;">BTUh</span>
<svg class="ov" width="750" height="562" viewBox="0 0 750 562"><rect x="504.20" y="311.72" width="245.80" height="0.75" fill="#e5e5e5"/><rect x="653.60" y="314.90" width="51.30" height="11.00" fill="#fb8072"/></svg>
<span class="t" style="left:607.01px;top:316.00px;font-size:8.8px;line-height:8.8px;letter-spacing:0.200px;color:#0c0c0c;-webkit-text-stroke:0.16px #0c0c0c;">Infiltration:</span>
<span class="t" style="left:692.13px;top:316.00px;font-size:8.8px;line-height:8.8px;letter-spacing:0.120px;color:#111;-webkit-text-stroke:0.16px #111;">0.0</span>
<span class="t" style="left:708.00px;top:316.00px;font-size:8.8px;line-height:8.8px;letter-spacing:-0.167px;color:#0c0c0c;-webkit-text-stroke:0.16px #0c0c0c;">BTUh</span>
<svg class="ov" width="750" height="562" viewBox="0 0 750 562"><rect x="504.20" y="327.82" width="245.80" height="0.75" fill="#e5e5e5"/><rect x="653.60" y="331.00" width="51.30" height="11.00" fill="#80b1d3"/></svg>
<span class="t" style="left:596.52px;top:333.00px;font-size:8.8px;line-height:8.8px;letter-spacing:0.200px;color:#0c0c0c;-webkit-text-stroke:0.16px #0c0c0c;">Internal gain:</span>
<span class="t" style="left:674.52px;top:333.00px;font-size:8.8px;line-height:8.8px;letter-spacing:0.120px;color:#111;-webkit-text-stroke:0.16px #111;">1,720.0</span>
<span class="t" style="left:708.00px;top:333.00px;font-size:8.8px;line-height:8.8px;letter-spacing:-0.167px;color:#0c0c0c;-webkit-text-stroke:0.16px #0c0c0c;">BTUh</span>
<svg class="ov" width="750" height="562" viewBox="0 0 750 562"><rect x="504.20" y="343.92" width="245.80" height="0.75" fill="#e5e5e5"/><rect x="653.60" y="347.10" width="51.30" height="11.00" fill="#fdb462"/></svg>
<span class="t" style="left:540.34px;top:349.00px;font-size:8.8px;line-height:8.8px;letter-spacing:0.200px;color:#0c0c0c;-webkit-text-stroke:0.16px #0c0c0c;">Duct and blower heat gain:</span>
<span class="t" style="left:674.52px;top:349.00px;font-size:8.8px;line-height:8.8px;letter-spacing:0.120px;color:#111;-webkit-text-stroke:0.16px #111;">5,595.2</span>
<span class="t" style="left:708.00px;top:349.00px;font-size:8.8px;line-height:8.8px;letter-spacing:-0.167px;color:#0c0c0c;-webkit-text-stroke:0.16px #0c0c0c;">BTUh</span>
<svg class="ov" width="750" height="562" viewBox="0 0 750 562"><rect x="504.20" y="360.02" width="245.80" height="0.75" fill="#e5e5e5"/><rect x="653.60" y="363.20" width="51.30" height="11.00" fill="#b3de69"/></svg>
<span class="t" style="left:604.75px;top:365.00px;font-size:8.8px;line-height:8.8px;letter-spacing:0.200px;color:#0c0c0c;-webkit-text-stroke:0.16px #0c0c0c;">Ventilation:</span>
<span class="t" style="left:674.52px;top:365.00px;font-size:8.8px;line-height:8.8px;letter-spacing:0.120px;color:#111;-webkit-text-stroke:0.16px #111;">2,254.6</span>
<span class="t" style="left:708.00px;top:365.00px;font-size:8.8px;line-height:8.8px;letter-spacing:-0.167px;color:#0c0c0c;-webkit-text-stroke:0.16px #0c0c0c;">BTUh</span>
<svg class="ov" width="750" height="562" viewBox="0 0 750 562"><rect x="504.20" y="376.12" width="245.80" height="0.75" fill="#e5e5e5"/><rect x="653.60" y="379.30" width="51.30" height="11.00" fill="#fccde5"/></svg>
<span class="t" style="left:539.38px;top:381.00px;font-size:8.8px;line-height:8.8px;letter-spacing:0.200px;color:#0c0c0c;-webkit-text-stroke:0.16px #0c0c0c;">Excursion adjustment load:</span>
<span class="t" style="left:692.13px;top:381.00px;font-size:8.8px;line-height:8.8px;letter-spacing:0.120px;color:#111;-webkit-text-stroke:0.16px #111;">0.0</span>
<span class="t" style="left:708.00px;top:381.00px;font-size:8.8px;line-height:8.8px;letter-spacing:-0.167px;color:#0c0c0c;-webkit-text-stroke:0.16px #0c0c0c;">BTUh</span>
<svg class="ov" width="750" height="562" viewBox="0 0 750 562"><rect x="504.20" y="392.23" width="245.80" height="0.75" fill="#e5e5e5"/></svg>
<span class="t" style="left:596.04px;top:397.00px;font-size:8.8px;line-height:8.8px;letter-spacing:0.200px;color:#0c0c0c;-webkit-text-stroke:0.16px #0c0c0c;">Total cooling:</span>
<span class="t" style="left:669.51px;top:397.00px;font-size:8.8px;line-height:8.8px;letter-spacing:0.120px;color:#9c2b3b;-webkit-text-stroke:0.16px #9c2b3b;">25,302.8</span>
<span class="t" style="left:708.00px;top:397.00px;font-size:8.8px;line-height:8.8px;letter-spacing:-0.167px;color:#0c0c0c;-webkit-text-stroke:0.16px #0c0c0c;">BTUh</span>
<svg class="ov" width="750" height="562" viewBox="0 0 750 562"><rect x="504.20" y="408.32" width="245.80" height="0.75" fill="#e5e5e5"/></svg>
<span class="t" style="left:598.51px;top:413.00px;font-size:8.8px;line-height:8.8px;letter-spacing:0.200px;color:#0c0c0c;-webkit-text-stroke:0.16px #0c0c0c;">Total airflow:</span>
<span class="t" style="left:674.52px;top:413.00px;font-size:8.8px;line-height:8.8px;letter-spacing:0.120px;color:#9c2b3b;-webkit-text-stroke:0.16px #9c2b3b;">1,098.4</span>
<span class="t" style="left:708.00px;top:413.00px;font-size:8.8px;line-height:8.8px;letter-spacing:-0.531px;color:#0c0c0c;-webkit-text-stroke:0.16px #0c0c0c;">CFM</span>
</div>
</body></html>
